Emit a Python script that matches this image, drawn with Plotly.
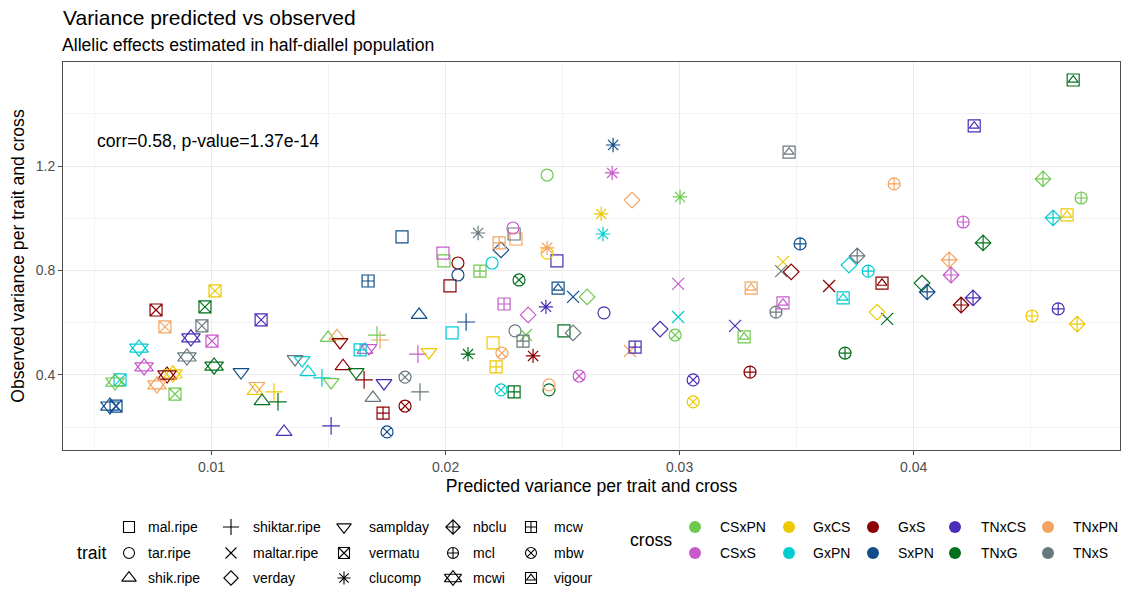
"""Variance predicted vs observed, per trait and cross (half-diallel)."""
import plotly.graph_objects as go

TRAITS = [
    "mal.ripe", "tar.ripe", "shik.ripe", "shiktar.ripe", "maltar.ripe",
    "verday", "samplday", "vermatu", "clucomp", "nbclu",
    "mcl", "mcwi", "mcw", "mbw", "vigour",
]
CROSSES = ["CSxPN", "CSxS", "GxCS", "GxPN", "GxS", "SxPN", "TNxCS", "TNxG", "TNxPN", "TNxS"]

# predicted variance, one row per trait (TRAITS order), columns in CROSSES order
PREDICTED = [
    [0.01993, 0.01989, 0.02203, 0.02028, 0.02019, 0.01814, 0.02476, 0.02506, 0.02301, 0.02293],  # mal.ripe
    [0.02434, 0.02288, 0.02434, 0.02199, 0.02053, 0.02053, 0.02677, 0.02442, 0.02442, 0.02297],  # tar.ripe
    [0.01498, 0.01656, 0.01186, 0.01412, 0.01562, 0.01887, 0.01310, 0.01216, 0.01536, 0.01690],  # shik.ripe
    [0.01707, 0.01882, 0.01267, 0.01472, 0.01652, 0.02088, 0.01511, 0.01284, 0.01720, 0.01891],  # shiktar.ripe
    [0.02344, 0.02994, 0.03442, 0.02994, 0.03639, 0.02545, 0.03237, 0.03887, 0.02788, 0.03434],  # maltar.ripe
    [0.02605, 0.02353, 0.03844, 0.03724, 0.03477, 0.02237, 0.02917, 0.04036, 0.02797, 0.02545],  # verday
    [0.01511, 0.01673, 0.01929, 0.01387, 0.01549, 0.01126, 0.01737, 0.01618, 0.01194, 0.01357],  # samplday
    [0.00844, 0.01002, 0.01015, 0.00609, 0.00763, 0.00592, 0.01212, 0.00972, 0.00801, 0.00959],  # vermatu
    [0.03002, 0.02712, 0.02665, 0.02673, 0.02374, 0.02716, 0.02429, 0.02096, 0.02434, 0.02139],  # clucomp
    [0.04553, 0.04160, 0.04699, 0.04596, 0.04203, 0.04058, 0.04254, 0.04297, 0.04152, 0.03759],  # nbclu
    [0.04716, 0.04212, 0.04506, 0.03806, 0.03301, 0.03515, 0.04618, 0.03707, 0.03917, 0.03412],  # mcl
    [0.00588, 0.00712, 0.00835, 0.00690, 0.00810, 0.00566, 0.00912, 0.01011, 0.00767, 0.00895],  # mcwi
    [0.02147, 0.02250, 0.02216, 0.01635, 0.01733, 0.01669, 0.02810, 0.02293, 0.02229, 0.02331],  # mcw
    [0.02981, 0.02571, 0.03058, 0.02237, 0.01827, 0.01750, 0.03058, 0.02314, 0.02241, 0.01827],  # mbw
    [0.03276, 0.03442, 0.04656, 0.03699, 0.03865, 0.02481, 0.04259, 0.04682, 0.03306, 0.03468],  # vigour
]

# observed variance, same layout
OBSERVED = [
    [0.837, 0.867, 0.523, 0.561, 0.741, 0.929, 0.837, 0.569, 0.921, 0.940],  # mal.ripe
    [1.166, 0.963, 0.867, 0.829, 0.829, 0.783, 0.638, 0.343, 0.362, 0.569],  # tar.ripe
    [0.542, 0.496, 0.339, 0.411, 0.434, 0.630, 0.182, 0.300, 0.549, 0.312],  # shik.ripe
    [0.553, 0.480, 0.335, 0.389, 0.381, 0.603, 0.205, 0.297, 0.534, 0.335],  # shiktar.ripe
    [0.553, 0.749, 0.833, 0.622, 0.741, 0.699, 0.588, 0.615, 0.492, 0.798],  # maltar.ripe
    [0.699, 0.630, 0.641, 0.821, 0.795, 0.879, 0.576, 0.752, 1.070, 0.561],  # verday
    [0.373, 0.503, 0.488, 0.457, 0.526, 0.411, 0.369, 0.411, 0.358, 0.461],  # samplday
    [0.327, 0.530, 0.722, 0.381, 0.649, 0.281, 0.611, 0.661, 0.584, 0.588],  # vermatu
    [1.082, 1.174, 1.017, 0.940, 0.473, 1.281, 0.661, 0.480, 0.887, 0.944],  # clucomp
    [1.151, 0.783, 0.595, 1.002, 0.668, 0.718, 0.695, 0.906, 0.841, 0.856],  # nbclu
    [1.078, 0.986, 0.626, 0.798, 0.411, 0.902, 0.653, 0.484, 1.132, 0.641],  # mcl
    [0.373, 0.431, 0.404, 0.503, 0.400, 0.281, 0.542, 0.434, 0.362, 0.469],  # mcwi
    [0.798, 0.672, 0.431, 0.496, 0.254, 0.760, 0.507, 0.335, 0.906, 0.530],  # mcw
    [0.553, 0.396, 0.297, 0.343, 0.281, 0.182, 0.381, 0.764, 0.484, 0.392],  # mbw
    [0.546, 0.676, 1.013, 0.695, 0.752, 0.733, 1.354, 1.530, 0.733, 1.254],  # vigour
]

CORR_TEXT = "corr=0.58, p-value=1.37e-14"

CROSS_COLORS = {
    "CSxPN": "#6DCA4F",
    "CSxS": "#C75BCB",
    "GxCS": "#EEC900",
    "GxPN": "#00CDD2",
    "GxS": "#8B0000",
    "SxPN": "#104E8B",
    "TNxCS": "#4A2DB6",
    "TNxG": "#03701E",
    "TNxPN": "#F4A460",
    "TNxS": "#67787C",
}

# ggplot shapes 0..14 -> stacked plotly symbols as (symbol, size factor)
# mcwi = two triangles (star of David), vigour = square with a triangle inside
TRAIT_SYMBOLS = {
    "mal.ripe": [("square-open", 1.0)],
    "tar.ripe": [("circle-open", 1.0)],
    "shik.ripe": [("triangle-up-open", 1.15)],
    "shiktar.ripe": [("cross-thin-open", 1.05)],
    "maltar.ripe": [("x-thin-open", 1.0)],
    "verday": [("diamond-open", 1.0)],
    "samplday": [("triangle-down-open", 1.15)],
    "vermatu": [("square-x-open", 1.0)],
    "clucomp": [("asterisk-open", 1.0)],
    "nbclu": [("diamond-cross-open", 1.0)],
    "mcl": [("circle-cross-open", 1.0)],
    "mcwi": [("triangle-up-open", 1.35), ("triangle-down-open", 1.35)],
    "mcw": [("square-cross-open", 1.0)],
    "mbw": [("circle-x-open", 1.0)],
    "vigour": [("square-open", 1.0), ("triangle-up-open", 0.72)],
}

FONT = "Liberation Sans, Arial, sans-serif"
W, H = 1122, 590
M_L, M_R, M_T = 63, 2, 62
PANEL_BOTTOM = 450
AREA_H = H - M_T
MAIN_DOMAIN_Y0 = (H - PANEL_BOTTOM) / AREA_H

X_RANGE = [0.003654, 0.04882]
Y_RANGE = [0.1126, 1.599]

# legend geometry, in page pixels
LEG_ROWS = [527, 553, 578]
TRAIT_KEY_X = [129, 231, 344, 453, 531]
TRAIT_LABEL_X = [146, 251, 367, 471, 552]
CROSS_KEY_X = [695, 789, 873, 955, 1048]
CROSS_LABEL_X = [718, 811, 896, 979, 1071]

fig = go.Figure()

# --- data points ---
point_colors = [CROSS_COLORS[c] for c in CROSSES]
for i, trait in enumerate(TRAITS):
    for sym, scale in TRAIT_SYMBOLS[trait]:
        fig.add_trace(
            go.Scatter(
                x=PREDICTED[i],
                y=OBSERVED[i],
                mode="markers",
                name=trait,
                text=CROSSES,
                hovertemplate=trait + " %{text}<br>%{x:.4f}, %{y:.3f}<extra></extra>",
                marker=dict(
                    symbol=sym,
                    size=12 * scale,
                    color=point_colors,
                    line=dict(width=1.2),
                ),
                showlegend=False,
                xaxis="x",
                yaxis="y",
            )
        )

# --- hand-built legend on a hidden pixel-scaled axis pair ---
for k, trait in enumerate(TRAITS):
    col, row = divmod(k, 3)
    for sym, scale in TRAIT_SYMBOLS[trait]:
        fig.add_trace(
            go.Scatter(
                x=[TRAIT_KEY_X[col]],
                y=[LEG_ROWS[row]],
                mode="markers",
                marker=dict(
                    symbol=sym,
                    size=11 * scale,
                    color="#000000",
                    line=dict(width=1.1),
                ),
                hoverinfo="skip",
                showlegend=False,
                xaxis="x2",
                yaxis="y2",
            )
        )
    fig.add_annotation(
        x=TRAIT_LABEL_X[col], y=LEG_ROWS[row], xref="x2", yref="y2",
        text=trait, showarrow=False, xanchor="left", yanchor="middle",
        font=dict(size=14, color="#000000"),
    )

for k, cross in enumerate(CROSSES):
    col, row = divmod(k, 2)
    fig.add_trace(
        go.Scatter(
            x=[CROSS_KEY_X[col]],
            y=[LEG_ROWS[row]],
            mode="markers",
            marker=dict(symbol="circle", size=12, color=CROSS_COLORS[cross]),
            hoverinfo="skip",
            showlegend=False,
            xaxis="x2",
            yaxis="y2",
        )
    )
    fig.add_annotation(
        x=CROSS_LABEL_X[col], y=LEG_ROWS[row], xref="x2", yref="y2",
        text=cross, showarrow=False, xanchor="left", yanchor="middle",
        font=dict(size=14, color="#000000"),
    )

fig.add_annotation(
    x=91, y=LEG_ROWS[1], xref="x2", yref="y2", text="trait", showarrow=False,
    xanchor="center", yanchor="middle", font=dict(size=17.6, color="#000000"),
)
fig.add_annotation(
    x=651, y=(LEG_ROWS[0] + LEG_ROWS[1]) / 2, xref="x2", yref="y2", text="cross",
    showarrow=False, xanchor="center", yanchor="middle",
    font=dict(size=17.6, color="#000000"),
)

# correlation label
fig.add_annotation(
    x=0.00511, y=1.297, xref="x", yref="y", xshift=-2, text=CORR_TEXT, showarrow=False,
    xanchor="left", yanchor="middle", font=dict(size=17.6, color="#000000"),
)

# subtitle
fig.add_annotation(
    x=0, y=(H - 45) / AREA_H, xref="paper", yref="paper", xshift=-3,
    text="Allelic effects estimated in half-diallel population",
    showarrow=False, xanchor="left", yanchor="middle",
    font=dict(size=17.6, color="#000000"),
)

axis_common = dict(
    showline=True,
    linecolor="#4D4D4D",
    linewidth=1,
    mirror=True,
    ticks="outside",
    ticklen=4,
    tickwidth=1,
    tickcolor="#4D4D4D",
    tickfont=dict(size=14, color="#4D4D4D"),
    showgrid=True,
    gridcolor="#EBEBEB",
    gridwidth=1.1,
    zeroline=False,
    fixedrange=True,
)

fig.update_layout(
    width=W,
    height=H,
    margin=dict(l=M_L, r=M_R, t=M_T, b=0, autoexpand=False),
    paper_bgcolor="#FFFFFF",
    plot_bgcolor="#FFFFFF",
    font=dict(family=FONT, color="#000000"),
    title=dict(
        text="Variance predicted vs observed",
        x=M_L / W,
        xanchor="left",
        y=1 - 18 / H,
        yanchor="middle",
        font=dict(size=21, color="#000000"),
    ),
    xaxis=dict(
        **axis_common,
        domain=[0, 1],
        anchor="y",
        range=X_RANGE,
        tick0=0,
        dtick=0.01,
        minor=dict(dtick=0.005, tick0=0, showgrid=True, gridcolor="#F3F3F3", gridwidth=1, ticks=""),
        title=dict(text="Predicted variance per trait and cross", font=dict(size=17.6), standoff=5),
    ),
    yaxis=dict(
        **axis_common,
        domain=[MAIN_DOMAIN_Y0, 1],
        anchor="x",
        range=Y_RANGE,
        tick0=0,
        dtick=0.4,
        minor=dict(dtick=0.2, tick0=0, showgrid=True, gridcolor="#F3F3F3", gridwidth=1, ticks=""),
        title=dict(text="Observed variance per trait and cross", font=dict(size=17.6), standoff=6),
    ),
    xaxis2=dict(domain=[0, 1], anchor="y2", range=[M_L, W - M_R], visible=False, fixedrange=True),
    yaxis2=dict(domain=[0, MAIN_DOMAIN_Y0], anchor="x2", range=[H, PANEL_BOTTOM], visible=False, fixedrange=True),
    showlegend=False,
)

# the page body keeps its default 8px margin otherwise, which pushes the figure off-frame
fig.write_html(
    "out.html",
    config={"displayModeBar": False},
    post_script="document.body.style.margin='0';",
)
